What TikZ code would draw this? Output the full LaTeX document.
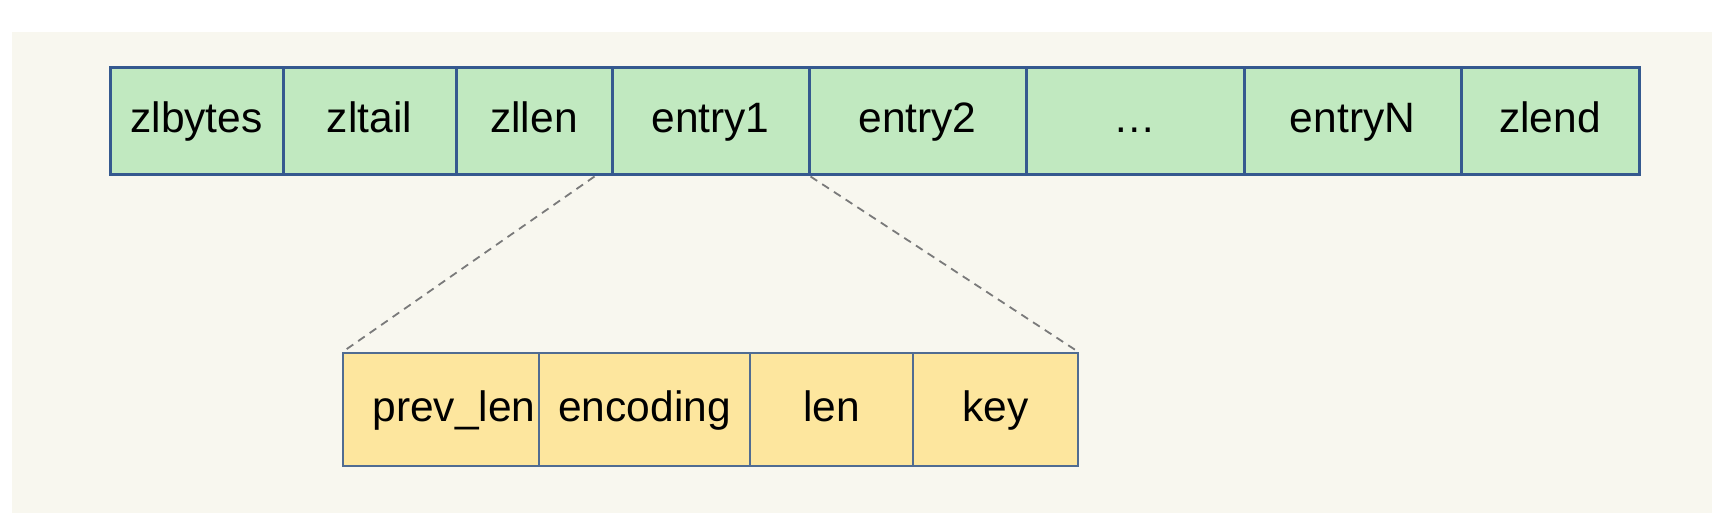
\documentclass[tikz,border=0pt]{standalone}
\usepackage{fontspec}
\setmainfont{Liberation Sans}
\definecolor{bgc}{HTML}{F8F7EF}
\definecolor{greenc}{HTML}{C1E9C0}
\definecolor{bluec}{HTML}{35598F}
\definecolor{yellowc}{HTML}{FDE69E}
\definecolor{lowborder}{HTML}{506C92}
\definecolor{dashc}{HTML}{7A7A7A}
\tikzset{
  topcell/.style={draw=bluec, fill=greenc, line width=3pt, inner sep=0pt,
    minimum height=107pt, text height=30pt, text depth=7pt,
    font=\fontsize{42.5}{50}\selectfont},
  lowcell/.style={draw=lowborder, fill=yellowc, line width=1.6pt, inner sep=0pt,
    minimum height=113pt, text height=30pt, text depth=7pt,
    font=\fontsize{42.5}{50}\selectfont},
  celltext/.style={inner sep=0pt, text height=30pt, text depth=7pt,
    font=\fontsize{42.5}{50}\selectfont},
  zoomline/.style={draw=dashc, line width=1.8pt, dash pattern=on 8pt off 6pt}
}
\begin{document}
\begin{tikzpicture}[x=1pt,y=-1pt]
\useasboundingbox (0,0) rectangle (1712,518);
\fill[bgc] (12,32) rectangle (1712,513);
% top row
\node[topcell, minimum width=173pt] (zlbytes) at (196.5,121.5) {zlbytes};
\node[topcell, minimum width=173pt] (zltail) at (369.5,121.5) {zltail};
\node[topcell, minimum width=156pt] (zllen) at (534,121.5) {zllen};
\node[topcell, minimum width=197pt] (entry1) at (710.5,121.5) {entry1};
\node[topcell, minimum width=217pt] (entry2) at (917.5,121.5) {entry2};
\node[topcell, minimum width=218pt] (dots) at (1135,121.5) {\ldots};
\node[topcell, minimum width=217pt] (entryN) at (1352.5,121.5) {entryN};
\node[topcell, minimum width=178pt] (zlend) at (1550,121.5) {zlend};
% lower row
\node[lowcell, minimum width=196pt] (prevlen) at (441,409.5) {};
\node[celltext] (prevlentext) at (454,409.5) {prev\_len};
\node[lowcell, minimum width=211pt] (encoding) at (644.5,409.5) {encoding};
\node[lowcell, minimum width=163pt] (len) at (831.5,409.5) {len};
\node[lowcell, minimum width=165pt] (key) at (995.5,409.5) {key};
% zoom lines
\coordinate (zstart) at ([xshift=-19pt]zllen.south east);
\draw[zoomline] (zstart) -- (prevlen.north west);
\draw[zoomline] (entry1.south east) -- (key.north east);
\end{tikzpicture}
\end{document}
